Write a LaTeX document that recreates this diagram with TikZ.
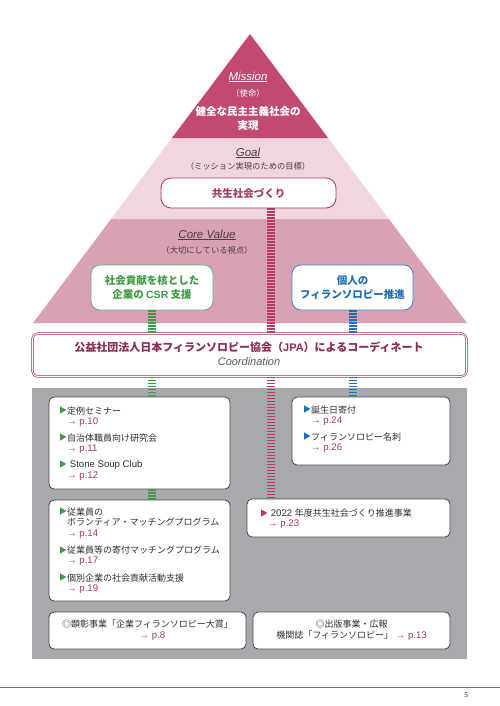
\documentclass[tikz,border=0pt]{standalone}
\usepackage{fontspec}
\setmainfont{Noto Sans CJK JP}
\newfontfamily\lat{Liberation Sans}
\newfontfamily\pnum{Liberation Serif}
\definecolor{mission}{HTML}{C2496F}
\definecolor{goalband}{HTML}{F1D6DD}
\definecolor{coreband}{HTML}{D8A1B6}
\definecolor{goaltxt}{HTML}{A8385C}
\definecolor{coordc}{HTML}{972F5A}
\definecolor{coordtxt}{HTML}{8C2B55}
\definecolor{grayarea}{HTML}{A7A9AC}
\definecolor{tgreen}{HTML}{3E9A45}
\definecolor{bgreen}{HTML}{6DAE6B}
\definecolor{tblue}{HTML}{1F6DB6}
\definecolor{bblue}{HTML}{3C82C6}
\definecolor{lred}{HTML}{B8395F}
\definecolor{refc}{HTML}{A8385C}
\definecolor{labc}{HTML}{4D3B41}
\definecolor{bodyc}{HTML}{2F2F2F}
\newcommand{\tri}[1]{\makebox[8pt][l]{\raisebox{0.3pt}{\fontsize{8}{8}\selectfont\color{#1}▶}}}
\newcommand{\lt}[1]{{\lat\fontsize{9.6}{10.6}\selectfont #1}}
\newcommand{\pref}[1]{\hspace*{8pt}{\color{refc}\lt{→ p.#1}}}
\tikzset{
  ladder/.style={line width=8pt, dash pattern=on 1.6pt off 1.4pt},
  wbox/.style={draw=#1, fill=white, line width=0.8pt, rounded corners=5pt, inner sep=0pt},
  wbox/.default={black!72},
  item/.style={anchor=north west, inner sep=0pt, align=left, text=bodyc,
    font=\fontsize{9}{10.6}\selectfont},
  lbl/.style={inner sep=0pt, font=\lat\itshape\fontsize{11.5}{12}\selectfont},
  sub/.style={inner sep=0pt, font=\fontsize{8.3}{10}\selectfont},
}
\begin{document}
\begin{tikzpicture}[x=1pt,y=-1pt]
\useasboundingbox (0,0) rectangle (500,706);
% pyramid
\fill[coreband] (111.1,219) -- (388.9,219) -- (467,323) -- (33,323) -- cycle;
\fill[goalband] (171.9,138) -- (328.1,138) -- (388.9,219) -- (111.1,219) -- cycle;
\fill[mission] (250,34) -- (328.1,138) -- (171.9,138) -- cycle;
% mission texts
\node[lbl, text=white] (mis) at (248,77) {\underline{Mission}};
\node[sub, text=white] (mis2) at (248,93) {（使命）};
\node[inner sep=0pt, text=white, align=center, font=\bfseries\fontsize{10.5}{14}\selectfont] (mis3) at (248,119) {健全な民主主義社会の\\実現};
% goal texts
\node[lbl, text=labc] (goal) at (248,153) {\underline{Goal}};
\node[sub, text=labc] (goal2) at (248,166) {（ミッション実現のための目標）};
% core value texts
\node[lbl, text=labc] (core) at (207,235) {\underline{Core Value}};
\node[sub, text=labc] (core2) at (207,250) {（大切にしている視点）};
% gray area
\fill[grayarea] (32,388) rectangle (467,659);
% coordinate for red ladder
\coordinate (rx) at (271,0);
% nodes
\node[wbox=goaltxt, rounded corners=10pt, minimum width=175pt, minimum height=30pt,
  text=goaltxt, font=\bfseries\fontsize{10.5}{12}\selectfont] (goalbox) at (248.5,193) {共生社会づくり};
\node[wbox=bgreen, rounded corners=9pt, minimum width=122pt, minimum height=45pt,
  text=tgreen, align=center, font=\bfseries\fontsize{10.5}{13.5}\selectfont] (csr) at (152,287.5) {社会貢献を核とした\\企業の {\lat CSR} 支援};
\node[wbox=bblue, rounded corners=9pt, minimum width=121pt, minimum height=45pt,
  text=tblue, align=center, font=\bfseries\fontsize{10.5}{13.5}\selectfont] (indiv) at (352.5,287.5) {個人の\\フィランソロピー推進};
\node[draw=coordc, double=white, double distance=0.9pt, line width=0.6pt, fill=white,
  rounded corners=5pt, minimum width=434pt, minimum height=43pt, inner sep=0pt] (coord) at (249.5,355) {};
\node[inner sep=0pt, text=coordtxt, font=\bfseries\fontsize{11}{12}\selectfont] (coordt) at (249,347) {公益社団法人日本フィランソロピー協会（{\lat JPA}）によるコーディネート};
\node[inner sep=0pt, text=black!65, font=\lat\itshape\fontsize{11}{12}\selectfont] (coordt2) at (249,362) {Coordination};
% lower boxes
\node[wbox, minimum width=181pt, minimum height=92pt] (b1) at (139.5,443) {};
\node[wbox, minimum width=158pt, minimum height=68pt] (b2) at (371,431) {};
\node[wbox, minimum width=181pt, minimum height=101pt] (b3) at (139.5,550.5) {};
\node[wbox, minimum width=203pt, minimum height=38pt] (b4) at (348.5,518) {};
\node[wbox, minimum width=197pt, minimum height=37pt] (b5) at (147.5,630.5) {};
\node[wbox, minimum width=197pt, minimum height=37pt] (b6) at (351.5,630.5) {};
% ladders
\draw[ladder, draw=lred] (goalbox.south -| rx) -- (coord.north -| rx);
\draw[ladder, draw=lred] (coord.south -| rx) -- (b4.north -| rx);
\draw[ladder, draw=tgreen] (csr.south) -- (coord.north -| csr);
\draw[ladder, draw=tgreen] (coord.south -| csr) -- (b1.north -| csr);
\draw[ladder, draw=tgreen] (b1.south -| csr) -- (b3.north -| csr);
\draw[ladder, draw=tblue] (indiv.south) -- (coord.north -| indiv);
\draw[ladder, draw=tblue] (coord.south -| indiv) -- (b2.north -| indiv);
% box 1 items
\node[item] (i11) at (59,406.5) {\tri{tgreen}定例セミナー\\\pref{10}};
\node[item] (i12) at (59,433.5) {\tri{tgreen}自治体職員向け研究会\\\pref{11}};
\node[item] (i13) at (59,460.5) {\tri{tgreen}\lt{ Stone Soup Club}\\\pref{12}};
% box 2 items
\node[item] (i21) at (303,405.5) {\tri{tblue}誕生日寄付\\\pref{24}};
\node[item] (i22) at (303,432.5) {\tri{tblue}フィランソロピー名刺\\\pref{26}};
% box 3 items
\node[item] (i31) at (59,507.5) {\tri{tgreen}従業員の\\\hspace*{8pt}ボランティア・マッチングプログラム\\\pref{14}};
\node[item] (i32) at (59,545.5) {\tri{tgreen}従業員等の寄付マッチングプログラム\\\pref{17}};
\node[item] (i33) at (59,573.5) {\tri{tgreen}個別企業の社会貢献活動支援\\\pref{19}};
% box 4
\node[item] (i41) at (260,508.5) {\tri{lred}\lt{ 2022 }年度共生社会づくり推進事業\\\pref{23}};
% box 5, 6
\node[inner sep=0pt, align=center, text=bodyc, font=\fontsize{9}{10.8}\selectfont] (t5) at (b5) {◎顕彰事業「企業フィランソロピー大賞」\\\hspace*{10pt}{\color{refc}\lt{→ p.8}}};
\node[inner sep=0pt, align=center, text=bodyc, font=\fontsize{9}{10.8}\selectfont] (t6) at (b6) {◎出版事業・広報\\機関誌「フィランソロピー」{\color{refc}\lt{ → p.13}}};
% footer
\draw[black!55, line width=0.8pt] (0,687) -- (500,687);
\node[inner sep=0pt, font=\pnum\fontsize{7}{8}\selectfont] (pg) at (466,695.5) {5};
\end{tikzpicture}
\end{document}
